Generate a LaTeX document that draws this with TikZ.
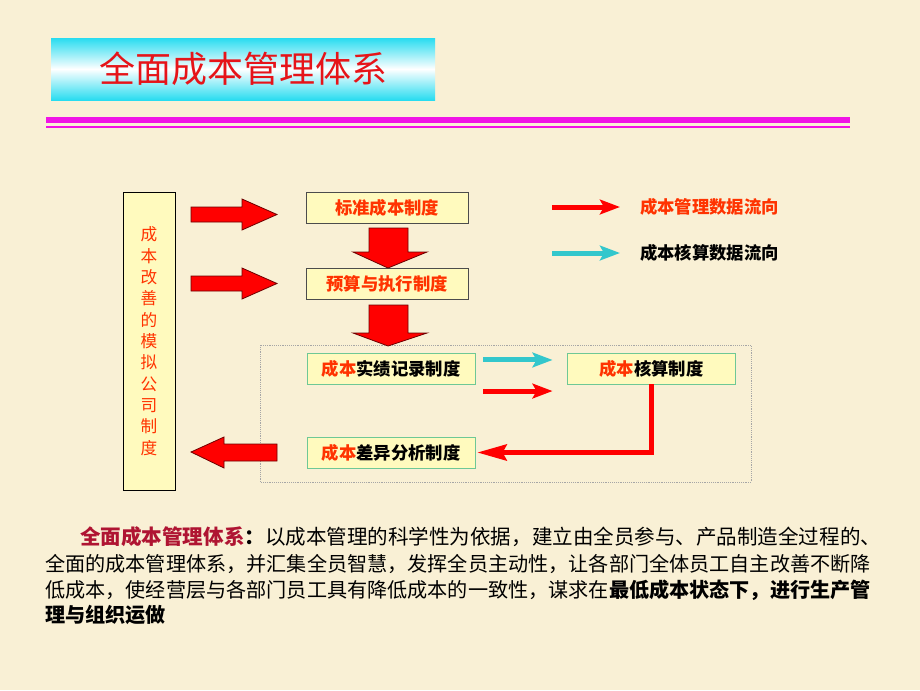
\documentclass[tikz,border=0pt]{standalone}
\usepackage{fontspec}
\setmainfont{Noto Sans CJK SC}
\usetikzlibrary{arrows.meta}

\definecolor{bgcol}{RGB}{249,240,213}
\definecolor{boxfill}{RGB}{255,250,190}
\definecolor{orred}{RGB}{255,51,0}
\definecolor{darkred}{RGB}{110,0,0}
\definecolor{tealarrow}{RGB}{51,199,204}
\definecolor{boxgreen}{RGB}{110,200,150}
\definecolor{titlecyan}{RGB}{40,220,240}
\definecolor{magline}{RGB}{240,20,230}
\definecolor{leadred}{RGB}{175,20,50}

\begin{document}
\begin{tikzpicture}[x=0.75pt, y=-0.75pt,
    topbox/.style={draw=black!70, fill=boxfill, minimum width=121.5pt, minimum height=23.25pt, inner sep=0pt, font=\fontsize{13}{15}\selectfont\bfseries, text=orred},
    lowbox/.style={topbox, draw=boxgreen, minimum width=126pt, text=black},
    blockarrow/.style={fill=red, draw=darkred, line width=0.6pt},
    flowline/.style={line width=3.75pt, -{Stealth[length=15pt, width=11pt, inset=3pt]}},
    bodyline/.style={anchor=west, inner sep=0pt, font=\fontsize{15.1}{18}\selectfont}]
    % background and heading
    \fill[bgcol](0, 0) rectangle (920, 690);
    \useasboundingbox(0, 0) rectangle (920, 690);
    \node[top color=titlecyan, bottom color=titlecyan, middle color=white, minimum width=288pt, minimum height=46.5pt, inner sep=0pt, text={rgb,255:red,230;green,20;blue,25}, font=\fontsize{27}{30}\selectfont](title)at(243, 69){全面成本管理体系};
    \fill[magline](46, 117)rectangle(850, 123);
    \draw[magline, line width=1.1pt](46, 127)--(850, 127);
    % boxes
    \draw[gray!70, densely dotted](260, 345)rectangle(751, 482);
    \node[topbox, minimum width=39pt, minimum height=223.5pt, align=center, font=\fontsize{12.5}{16}\selectfont, draw=black](model)at(149, 341){成\\本\\改\\善\\的\\模\\拟\\公\\司\\制\\度};
    \node[topbox](std)at(387, 208){标准成本制度};
    \node[topbox](budget)at(387, 284){预算与执行制度};
    \node[lowbox](record)at(391, 368.5){{\color{orred}成本}实绩记录制度};
    \node[lowbox](calc)at(651.5, 368.5){{\color{orred}成本}核算制度};
    \node[lowbox](diff)at(391, 452.5){{\color{orred}成本}差异分析制度};
    % block arrows
    \foreach \y in {214.5, 283.5}
        \draw[blockarrow](191, \y-7.5)--(242, \y-7.5)--(242, \y-15.5)--(277, \y)--(242, \y+15.5)--(242, \y+7.5)--(191, \y+7.5)--cycle;
    \draw[blockarrow](277, 444)--(224, 444)--(224, 437)--(191, 452)--(224, 468)--(224, 461)--(277, 461)--cycle;
    \draw[blockarrow](369, 228)--(408, 228)--(408, 252)--(427, 252)--(388, 268)--(353, 252)--(369, 252)--cycle;
    \draw[blockarrow](369, 305)--(408, 305)--(408, 333)--(427, 333)--(388, 346)--(353, 333)--(369, 333)--cycle;
    % data flow
    \draw[flowline, tealarrow]([xshift=6pt, yshift=6.4pt]record.east)--([xshift=-11pt, yshift=6.4pt]calc.west);
    \draw[flowline, red]([xshift=6pt, yshift=-16.9pt]record.east)--([xshift=-11pt, yshift=-16.9pt]calc.west);
    \draw[red, line width=3.75pt, -{Stealth[length=22pt, width=12pt, inset=3pt]}](calc.south)|-([xshift=1.5pt]diff.east);
    % legend
    \node[anchor=west, inner sep=0pt, font=\fontsize{13}{15}\selectfont\bfseries, text=orred](lgmanage)at(640, 207){成本管理数据流向};
    \node[anchor=west, inner sep=0pt, font=\fontsize{13}{15}\selectfont\bfseries](lgcalc)at(640, 253){成本核算数据流向};
    \coordinate(lmstart)at(552, 207);
    \coordinate(lcstart)at(552, 253);
    \draw[flowline, red](lmstart)--([xshift=-15pt]lgmanage.west);
    \draw[flowline, tealarrow](lcstart)--([xshift=-15pt]lgcalc.west);
    % text
    \node[bodyline, font=\fontsize{15.4}{18}\selectfont](line1)at(80, 537){{\bfseries\color{leadred}全面成本管理体系}\textbf{：}以成本管理的科学性为依据，建立由全员参与、产品制造全过程的、};
    \node[bodyline](line2)at(45, 564){全面的成本管理体系，并汇集全员智慧，发挥全员主动性，让各部门全体员工自主改善不断降};
    \node[bodyline](line3)at(45, 590){低成本，使经营层与各部门员工具有降低成本的一致性，谋求在\textbf{最低成本状态下，进行生产管}};
    \node[bodyline](line4)at(45, 615){\textbf{理与组织运做}};
\end{tikzpicture}
\end{document}
